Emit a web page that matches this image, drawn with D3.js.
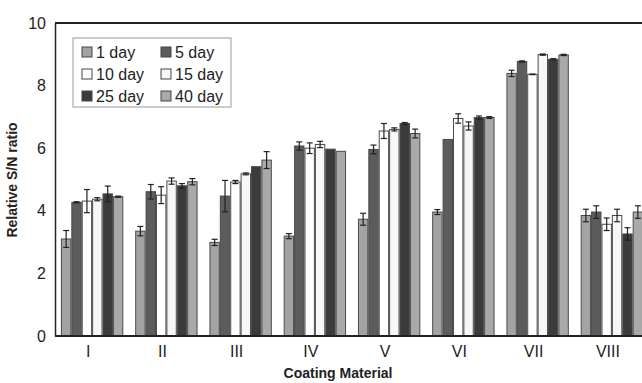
<!DOCTYPE html>
<html>
<head>
<meta charset="utf-8">
<script src="https://cdn.jsdelivr.net/npm/d3@7.9.0/dist/d3.min.js"></script>
<style>
  body { margin: 0; background: #fff; }
  svg { font-family: "Liberation Sans", Arial, sans-serif; }
</style>
</head>
<body>
<svg width="642" height="383"></svg>
<script>
// categories and series
const materials = ["I", "II", "III", "IV", "V", "VI", "VII", "VIII"];
const seriesNames = ["1 day", "5 day", "10 day", "15 day", "25 day", "40 day"];
const seriesColors = ["#a3a3a3", "#5c5c5c", "#ffffff", "#f7f7f7", "#3b3b3b", "#a9a9a9"];
const yTicks = [0, 2, 4, 6, 8, 10];

// values per series, one entry per material
const day1  = [3.10, 3.35, 2.99, 3.19, 3.73, 3.96, 8.39, 3.85];
const day5  = [4.27, 4.61, 4.47, 6.07, 5.96, 6.28, 8.77, 3.96];
const day10 = [4.31, 4.50, 4.92, 6.00, 6.55, 6.95, 8.36, 3.57];
const day15 = [4.37, 4.95, 5.18, 6.12, 6.60, 6.71, 8.99, 3.85];
const day25 = [4.54, 4.80, 5.41, 5.97, 6.79, 6.98, 8.84, 3.26];
const day40 = [4.45, 4.93, 5.62, 5.90, 6.47, 6.98, 8.98, 3.96];

// error bar half widths
const err1  = [0.27, 0.15, 0.10, 0.08, 0.19, 0.08, 0.10, 0.20];
const err5  = [0.02, 0.23, 0.50, 0.13, 0.14, 0.00, 0.02, 0.20];
const err10 = [0.37, 0.27, 0.05, 0.17, 0.24, 0.15, 0.01, 0.20];
const err15 = [0.05, 0.10, 0.03, 0.10, 0.05, 0.13, 0.02, 0.20];
const err25 = [0.25, 0.07, 0.00, 0.00, 0.03, 0.05, 0.02, 0.20];
const err40 = [0.02, 0.10, 0.27, 0.00, 0.14, 0.03, 0.02, 0.20];

const allValues = [day1, day5, day10, day15, day25, day40];
const allErrors = [err1, err5, err10, err15, err25, err40];

const svg = d3.select("svg");
const plotLeft = 55, plotTop = 23, plotBottom = 336, plotRight = 649;

let x0 = d3.scaleBand().domain(materials).range([plotLeft, plotRight])
  .paddingInner(0.16).paddingOuter(0.08);
let x1 = d3.scaleBand().domain(seriesNames).range([0, x0.bandwidth()]);
let y = d3.scaleLinear().domain([0, 10]).range([plotBottom, plotTop]);

// flatten into bar records
let bars = [];
seriesNames.forEach((s, si) => {
  materials.forEach((m, mi) => {
    bars.push({ series: s, si: si, material: m, value: allValues[si][mi], err: allErrors[si][mi] });
  });
});

// bars
svg.append("g").selectAll("rect")
  .data(bars)
  .join("rect")
  .attr("x", d => x0(d.material) + x1(d.series) + 0.5)
  .attr("y", d => y(d.value))
  .attr("width", x1.bandwidth() - 1)
  .attr("height", d => y(0) - y(d.value))
  .attr("fill", d => seriesColors[d.si])
  .attr("stroke", "#4a4a4a")
  .attr("stroke-width", 1);

// error bars
let eg = svg.append("g").attr("stroke", "#222").attr("stroke-width", 1.2);
bars.filter(d => d.err > 0).forEach(d => {
  let cx = x0(d.material) + x1(d.series) + x1.bandwidth() / 2;
  let y1 = y(d.value + d.err), y2 = y(d.value - d.err);
  eg.append("line").attr("x1", cx).attr("x2", cx).attr("y1", y1).attr("y2", y2);
  eg.append("line").attr("x1", cx - 3).attr("x2", cx + 3).attr("y1", y1).attr("y2", y1);
  eg.append("line").attr("x1", cx - 3).attr("x2", cx + 3).attr("y1", y2).attr("y2", y2);
});

// frame: top border, left axis, baseline
svg.append("line").attr("x1", plotLeft).attr("x2", 642).attr("y1", plotTop).attr("y2", plotTop)
  .attr("stroke", "#222").attr("stroke-width", 2);

let yAxis = svg.append("g")
  .attr("transform", `translate(${plotLeft},0)`)
  .call(d3.axisLeft(y).tickValues(yTicks).tickSize(0).tickPadding(9));
yAxis.select(".domain").attr("stroke", "#222").attr("stroke-width", 1.5);
yAxis.selectAll("text").attr("font-size", 16).attr("fill", "#222")
  .attr("font-family", "Liberation Sans, Arial, sans-serif");

let xAxis = svg.append("g")
  .attr("transform", `translate(0,${plotBottom})`)
  .call(d3.axisBottom(x0).tickSize(0).tickPadding(10));
xAxis.select(".domain").attr("stroke", "#222").attr("stroke-width", 2)
  .attr("d", `M${plotLeft},0H642`);
xAxis.selectAll("text").attr("font-size", 16).attr("fill", "#222").attr("dx", -4)
  .attr("font-family", "Liberation Sans, Arial, sans-serif");

// axis titles
svg.append("text")
  .attr("x", 338).attr("y", 378)
  .attr("text-anchor", "middle")
  .attr("font-size", 14).attr("font-weight", "bold").attr("fill", "#222")
  .text("Coating Material");

svg.append("text")
  .attr("transform", "translate(17,180) rotate(-90)")
  .attr("text-anchor", "middle")
  .attr("font-size", 14).attr("font-weight", "bold").attr("fill", "#222")
  .text("Relative S/N ratio");

// legend
let legend = svg.append("g").attr("transform", "translate(73,38)");
legend.append("rect").attr("width", 158).attr("height", 69)
  .attr("fill", "#fff").attr("stroke", "#999");
seriesNames.forEach((s, i) => {
  let col = i % 2, row = Math.floor(i / 2);
  let g = legend.append("g").attr("transform", `translate(${9 + col * 79},${14 + row * 22})`);
  g.append("rect").attr("x", 0).attr("y", -5).attr("width", 10).attr("height", 10)
    .attr("fill", seriesColors[i]).attr("stroke", "#444");
  g.append("text").attr("x", 14).attr("y", 6)
    .attr("font-size", 16).attr("fill", "#222").text(s);
});
</script>
</body>
</html>
